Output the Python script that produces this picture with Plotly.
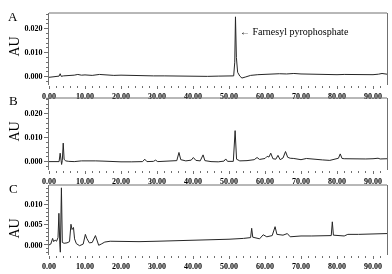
import plotly.graph_objects as go

# ---------------- data (time in min, absorbance in AU) ----------------
a_time = [0, 1, 2, 2.8, 3.1, 3.4, 4, 5, 6, 7, 8, 9, 10, 12, 14, 16, 18, 20, 23, 26, 29, 32, 35,
          38, 41, 44, 47, 50, 51.3, 51.6, 51.8, 52.05, 52.4, 53, 53.6, 54.5, 56, 58, 60, 62, 64,
          66, 68, 70, 72, 74, 76, 78, 80, 82, 84, 86, 88, 90, 91.5, 92.5, 93.9]
a_au = [-0.0003, -0.0002, 0.0000, 0.0002, 0.0012, 0.0001, 0.0003, 0.0004, 0.0003, 0.0006, 0.0009,
        0.0006, 0.0007, 0.0005, 0.0009, 0.0006, 0.0005, 0.0006, 0.0004, 0.0004, 0.0003, 0.0003,
        0.0002, 0.0002, 0.0002, 0.0001, 0.0002, 0.0002, 0.0003, 0.0060, 0.0249, 0.0080, 0.0018,
        0.0002, -0.0006, -0.0002, 0.0005, 0.0008, 0.0010, 0.0011, 0.0012, 0.0011, 0.0013, 0.0011,
        0.0010, 0.0010, 0.0009, 0.0009, 0.0008, 0.0009, 0.0008, 0.0008, 0.0009, 0.0008, 0.0010,
        0.0013, 0.0010]

b_time = [0, 1, 2, 2.8, 3.1, 3.3, 3.5, 3.7, 3.95, 4.2, 4.6, 5.5, 7, 9, 11, 13, 15, 17, 20, 23, 26,
          26.6, 27.2, 29, 29.6, 30.2, 33, 35.5, 36.1, 36.6, 38, 39.5, 40.1, 40.8, 42, 42.8, 43.3,
          45, 47, 48.6, 49.1, 49.6, 51.2, 51.7, 52.1, 53, 55, 57, 57.8, 58.5, 60, 60.6, 61.1, 61.6,
          62.2, 63, 63.6, 64.2, 65, 65.7, 66.3, 67, 68, 69, 70, 71.5, 73, 74.5, 76, 78, 79.5, 80.4,
          80.9, 81.4, 82, 84, 86, 88, 90, 91.4, 92, 93.9]
b_au = [0.0000, 0.0001, -0.0001, 0.0000, 0.0035, 0.0008, -0.0012, 0.0005, 0.0077, 0.0010, 0.0003,
        0.0001, 0.0000, 0.0003, 0.0004, 0.0003, 0.0002, 0.0000, -0.0001, -0.0001, 0.0000, 0.0010,
        0.0000, 0.0001, 0.0006, 0.0000, 0.0001, 0.0004, 0.0038, 0.0008, 0.0003, 0.0006, 0.0017,
        0.0005, 0.0003, 0.0028, 0.0004, 0.0000, -0.0001, 0.0002, 0.0011, 0.0001, 0.0001, 0.0129,
        0.0010, 0.0003, 0.0004, 0.0008, 0.0017, 0.0009, 0.0013, 0.0022, 0.0019, 0.0035, 0.0012,
        0.0010, 0.0026, 0.0008, 0.0015, 0.0042, 0.0018, 0.0014, 0.0013, 0.0010, 0.0008, 0.0013,
        0.0011, 0.0006, 0.0007, 0.0005, 0.0009, 0.0014, 0.0032, 0.0013, 0.0012, 0.0011, 0.0011,
        0.0011, 0.0012, 0.0014, 0.0011, 0.0012]

c_time = [0, 0.5, 1.0, 1.3, 1.7, 2.1, 2.5, 2.75, 3.0, 3.15, 3.45, 3.7, 4.2, 5.0, 5.7, 6.1, 6.4, 6.8,
          7.1, 7.6, 8.5, 9.5, 10.1, 10.5, 11.2, 12, 12.9, 13.3, 13.8, 14.5, 15.5, 17, 20, 25, 30,
          35, 40, 45, 50, 54, 56.0, 56.3, 56.6, 58.5, 59.5, 60.5, 62, 62.8, 63.3, 65, 66.2, 67, 70,
          73, 76, 78.4, 78.7, 79, 82, 83, 86, 90, 93.9]
c_au = [0.0000, 0.0002, 0.0016, 0.0008, 0.0012, 0.0009, 0.0018, 0.0078, 0.0002, -0.0018, 0.0141,
        0.0006, 0.0004, 0.0005, 0.0008, 0.0051, 0.0038, 0.0043, 0.0015, 0.0003, -0.0002, 0.0002,
        0.0026, 0.0016, 0.0005, 0.0006, 0.0023, 0.0010, -0.0001, 0.0002, 0.0007, 0.0009, 0.0008,
        0.0008, 0.0009, 0.0010, 0.0011, 0.0012, 0.0014, 0.0016, 0.0018, 0.0041, 0.0019, 0.0015,
        0.0025, 0.0020, 0.0023, 0.0045, 0.0026, 0.0024, 0.0028, 0.0020, 0.0022, 0.0022, 0.0023,
        0.0023, 0.0057, 0.0024, 0.0022, 0.0026, 0.0026, 0.0027, 0.0028]

panel_labels = ["A", "B", "C"]
y_label = "AU"
peak_label = "\u2190 Farnesyl pyrophosphate"
x_ticks = [0, 10, 20, 30, 40, 50, 60, 70, 80, 90]

# ---------------- layout geometry ----------------
W, H = 392, 274
X0, X1 = 49, 387
panels = [
    dict(t=a_time, v=a_au, top=13, bot=85, yr=[-0.0035, 0.0265], dt=0.01, mdt=0.002),
    dict(t=b_time, v=b_au, top=98, bot=170, yr=[-0.0035, 0.0265], dt=0.01, mdt=0.002),
    dict(t=c_time, v=c_au, top=185, bot=255, yr=[-0.0025, 0.0148], dt=0.005, mdt=0.001),
]

SERIF = "Liberation Serif"
AXC = "#707070"
TICKFONT = dict(family=SERIF, size=8, color="#000000", weight=700)
fig = go.Figure()
layout = dict(
    width=W, height=H, template="none", showlegend=False,
    margin=dict(l=0, r=0, t=0, b=0),
    paper_bgcolor="white", plot_bgcolor="white",
    font=dict(family=SERIF, color="#000000"),
    annotations=[], shapes=[],
)

for i, p in enumerate(panels):
    n = "" if i == 0 else str(i + 1)
    fig.add_trace(go.Scatter(x=p["t"], y=p["v"], mode="lines",
                             line=dict(color="#262626", width=1),
                             xaxis="x" + n, yaxis="y" + n, hoverinfo="skip"))
    ydom = [1 - p["bot"] / H, 1 - p["top"] / H]
    layout["xaxis" + n] = dict(
        domain=[X0 / W, X1 / W], range=[0, (X1 - X0) / 3.6], anchor="y" + n,
        tickvals=x_ticks, ticktext=[f"{v:.2f}" for v in x_ticks],
        ticks="outside", ticklen=3, tickwidth=1,
        tickcolor=AXC, showline=False, showgrid=False, zeroline=False, automargin=False,
        minor=dict(dtick=2, tick0=0, ticks="outside", ticklen=2, tickcolor=AXC, showgrid=False),
        tickfont=TICKFONT, color="#000000",
    )
    layout["yaxis" + n] = dict(
        domain=ydom, range=p["yr"], anchor="x" + n,
        dtick=p["dt"], tick0=0, tickformat=".3f", ticks="outside", ticklen=4, tickwidth=1,
        tickcolor=AXC, showline=True, linecolor=AXC, linewidth=1, mirror=True,
        showgrid=False, zeroline=False, automargin=False,
        minor=dict(dtick=p["mdt"], tick0=0, ticks="outside", ticklen=2, tickcolor=AXC, showgrid=False),
        tickfont=TICKFONT, color="#000000",
    )
    layout["shapes"].append(dict(type="line", xref="x" + n + " domain", yref="y" + n + " domain",
                                 x0=0, x1=1, y0=1, y1=1, line=dict(color=AXC, width=1)))
    layout["annotations"].append(dict(text=panel_labels[i], xref="paper", yref="paper",
                                      x=13 / W, y=1 - (p["top"] + 3) / H, showarrow=False,
                                      xanchor="center", yanchor="middle",
                                      font=dict(family=SERIF, size=13, color="black")))
    mid = (p["top"] + p["bot"]) / 2 + (-3 if i < 2 else 8)
    layout["annotations"].append(dict(text=y_label, xref="paper", yref="paper",
                                      x=13.5 / W, y=1 - mid / H, showarrow=False, textangle=-90,
                                      xanchor="center", yanchor="middle",
                                      font=dict(family=SERIF, size=14, color="black")))

layout["annotations"].append(dict(text=peak_label, xref="paper", yref="paper",
                                  x=238 / W, y=1 - 32 / H, showarrow=False,
                                  xanchor="left", yanchor="middle",
                                  font=dict(family=SERIF, size=10, color="black")))

fig.update_layout(**layout)
fig.write_html(
    "out.html", config={"displayModeBar": False},
    post_script=(
        "document.body.style.margin='0';document.body.style.overflow='hidden';"
        "document.querySelectorAll('.main-svg').forEach(function(s){s.style.filter='grayscale(1)';});"
    ),
)
